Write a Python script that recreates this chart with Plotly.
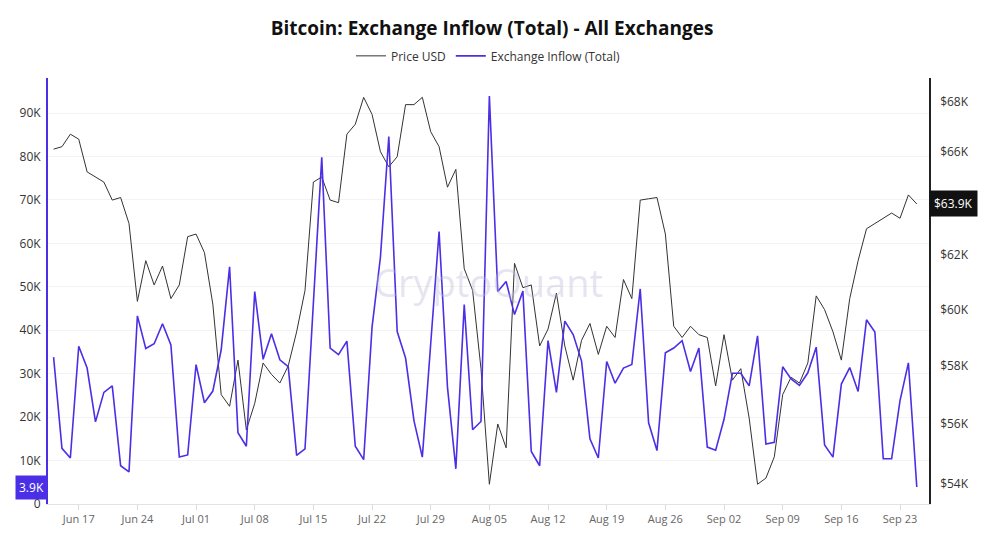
import math
import pandas as pd
import plotly.graph_objects as go

dates = pd.date_range("2024-06-14", "2024-09-25", freq="D")

inflow_k = [
    33.8, 12.8, 10.6, 36.3, 31.3, 18.9, 25.7, 27.2, 8.8, 7.4,
    43.3, 35.8, 36.9, 41.5, 36.6, 10.8, 11.3, 32.1, 23.3, 26.0,
    35.5, 54.6, 16.4, 13.3, 48.9, 33.3, 39.2, 33.2, 31.6, 11.2,
    12.7, 46.4, 79.8, 35.9, 34.4, 37.5, 13.3, 10.2, 40.7, 56.8,
    84.6, 39.7, 33.6, 19.2, 10.8, 36.9, 62.7, 26.9, 8.1, 45.9,
    17.1, 19.0, 93.9, 48.9, 51.2, 43.6, 49.0, 12.1, 8.8, 37.6,
    25.7, 42.1, 39.0, 32.9, 15.0, 10.6, 32.8, 27.8, 31.3, 32.1,
    49.5, 18.7, 12.3, 34.8, 35.9, 37.6, 30.5, 35.9, 13.1, 12.4,
    19.5, 30.1, 30.1, 27.2, 38.7, 13.8, 14.2, 31.6, 28.8, 27.3,
    30.2, 36.1, 13.6, 10.8, 27.6, 31.4, 25.9, 42.4, 39.6, 10.4,
    10.4, 23.8, 32.5, 3.9,
]

price_k = [
    66.1, 66.2, 66.7, 66.5, 65.2, 65.0, 64.8, 64.1, 64.2, 63.2,
    60.3, 61.8, 60.9, 61.6, 60.4, 60.9, 62.7, 62.8, 62.1, 60.2,
    57.0, 56.6, 58.2, 55.8, 56.7, 58.1, 57.7, 57.4, 58.0, 59.2,
    60.7, 64.8, 65.0, 64.1, 64.0, 66.7, 67.1, 68.2, 67.5, 66.0,
    65.4, 65.8, 67.9, 67.9, 68.2, 66.8, 66.2, 64.6, 65.3, 61.5,
    60.7, 57.9, 54.0, 56.0, 55.2, 61.7, 60.8, 60.9, 58.7, 59.3,
    60.6, 58.7, 57.5, 58.9, 59.5, 58.4, 59.4, 59.0, 61.1, 60.4,
    64.1, 64.15, 64.2, 62.8, 59.4, 59.0, 59.4, 59.1, 59.0, 57.3,
    59.1, 57.5, 57.9, 56.2, 54.0, 54.2, 54.9, 57.0, 57.6, 57.4,
    58.1, 60.5, 60.0, 59.2, 58.2, 60.4, 61.8, 63.0, 63.2, 63.4,
    63.6, 63.4, 64.3, 63.95,
]

inflow = [v * 1000 for v in inflow_k]
price = [v * 1000 for v in price_k]

left_ticks = [0, 10000, 20000, 30000, 40000, 50000, 60000, 70000, 80000, 90000]
left_labels = ["0", "10K", "20K", "30K", "40K", "50K", "60K", "70K", "80K", "90K"]
right_ticks = [54000, 56000, 58000, 60000, 62000, 66000, 68000]
right_labels = ["$54K", "$56K", "$58K", "$60K", "$62K", "$66K", "$68K"]

BLUE = "#4b2fe6"
FONT = "Open Sans"

fig = go.Figure()
fig.add_trace(go.Scatter(
    x=dates, y=price, name="Price USD", mode="lines",
    line=dict(color="#333333", width=1), yaxis="y",
))
fig.add_trace(go.Scatter(
    x=dates, y=inflow, name="Exchange Inflow (Total)", mode="lines",
    line=dict(color=BLUE, width=1.6), yaxis="y2",
))

fig.update_layout(
    width=984, height=554,
    margin=dict(l=48, r=55, t=78, b=50),
    paper_bgcolor="white", plot_bgcolor="white",
    font=dict(family=FONT, color="#333", size=12),
    title=dict(text="<b>Bitcoin: Exchange Inflow (Total) - All Exchanges</b>",
               x=0.5, xanchor="center", y=0.948, yanchor="middle",
               font=dict(family=FONT, size=19, color="#111")),
    showlegend=True,
    legend=dict(orientation="h", x=0.5, xanchor="center", y=1.052, yanchor="middle",
                font=dict(size=12, color="#333"), itemwidth=30,
                bgcolor="rgba(0,0,0,0)"),
    xaxis=dict(
        type="date",
        range=["2024-06-13 08:00", "2024-09-26 11:00"],
        tick0="2024-06-17", dtick=7 * 86400000, tickformat="%b %d",
        showgrid=False, showline=True, linecolor="#e3e3e3", linewidth=1,
        ticks="outside", ticklen=5, tickcolor="#dcdcdc",
        tickfont=dict(size=11, color="#666"),
    ),
    yaxis=dict(
        type="log", side="right",
        range=[math.log10(53360), math.log10(69000)],
        tickvals=right_ticks, ticktext=right_labels,
        showgrid=False, showline=True, linecolor="#222", linewidth=1.5,
        ticks="", ticklabelstandoff=7, tickfont=dict(size=12, color="#333"),
        zeroline=False,
    ),
    yaxis2=dict(
        overlaying="y", side="left",
        range=[0, 98060],
        tickvals=left_ticks, ticktext=left_labels,
        showgrid=True, gridcolor="#f3f3f3", gridwidth=1,
        showline=True, linecolor=BLUE, linewidth=2,
        ticks="", ticklabelstandoff=3, tickfont=dict(size=12, color="#333"),
        zeroline=False,
    ),
)

fig.add_annotation(
    text="CryptoQuant", xref="paper", yref="paper", x=0.5, y=0.52,
    showarrow=False, font=dict(family=FONT, size=38, color="rgba(190,185,215,0.38)"),
)
fig.add_annotation(
    text="3.9K", xref="paper", yref="y2", x=0, y=inflow[-1], xanchor="right",
    yanchor="middle", showarrow=False, bgcolor=BLUE, borderpad=3,
    font=dict(size=12, color="white"),
)
fig.add_annotation(
    text="$63.9K", xref="paper", yref="y", x=1, y=math.log10(price[-1]),
    xanchor="left", yanchor="middle", showarrow=False, bgcolor="#111",
    borderpad=4, font=dict(size=12, color="white"),
)

fig.write_html("out.html")
